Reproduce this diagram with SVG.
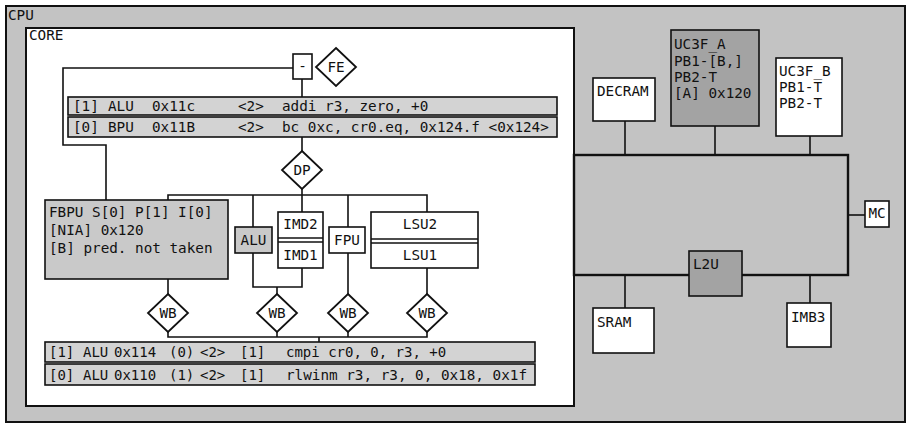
<svg xmlns="http://www.w3.org/2000/svg" width="909" height="426" viewBox="0 0 909 426">
<style>
text{font-family:"DejaVu Sans Mono","Liberation Mono",monospace;font-size:14.3px;fill:#111}
.c{text-anchor:middle}
.s{font-size:14px}
.box{fill:#fff;stroke:#111;stroke-width:1.6}
.gray{fill:#c9c9c9;stroke:#111;stroke-width:1.6}
.dark{fill:#a3a3a3;stroke:#111;stroke-width:1.6}
.bar{fill:#d3d3d3;stroke:#111;stroke-width:1.6}
.dia{fill:#fff;stroke:#111;stroke-width:1.8}
.ln{fill:none;stroke:#111;stroke-width:1.6}
.bus{fill:none;stroke:#111;stroke-width:2.4}
</style>
<defs>
<polygon id="dm" points="0,-19 20,0 0,19 -20,0" class="dia"/>
</defs>
<g id="cpu">
<rect x="6" y="6" width="899" height="416" fill="#c3c3c3" stroke="#111" stroke-width="2"/>
<text x="8" y="20">CPU</text>
</g>
<g id="core">
<rect x="26" y="28" width="548" height="378" fill="#fff" stroke="#111" stroke-width="2"/>
<text x="29" y="40">CORE</text>
</g>
<g id="connectors">
<polyline class="ln" points="293,68 63,68 63,145 106,145 106,200"/>
<line class="ln" x1="302" y1="79" x2="302" y2="97"/>
<line class="ln" x1="302" y1="137" x2="302" y2="151"/>
<line class="ln" x1="302" y1="189" x2="302" y2="212"/>
<polyline class="ln" points="168,200 168,195 427,195 427,212"/>
<line class="ln" x1="253" y1="195" x2="253" y2="227"/>
<line class="ln" x1="348" y1="195" x2="348" y2="227"/>
<polyline class="ln" points="253,253 253,287 302,287 302,268"/>
<line class="ln" x1="277" y1="287" x2="277" y2="294"/>
<line class="ln" x1="168" y1="279" x2="168" y2="294"/>
<line class="ln" x1="348" y1="253" x2="348" y2="294"/>
<line class="ln" x1="427" y1="268" x2="427" y2="294"/>
<polyline class="ln" points="168,332 168,337 427,337 427,332"/>
<line class="ln" x1="277" y1="332" x2="277" y2="337"/>
<line class="ln" x1="348" y1="332" x2="348" y2="337"/>
<line class="ln" x1="319" y1="337" x2="319" y2="342"/>
<rect class="bus" x="574" y="155" width="274" height="120"/>
<line class="ln" x1="625" y1="121" x2="625" y2="155"/>
<line class="ln" x1="715" y1="126" x2="715" y2="155"/>
<line class="ln" x1="810" y1="136" x2="810" y2="155"/>
<line class="ln" x1="848" y1="215" x2="865" y2="215"/>
<line class="ln" x1="625" y1="275" x2="625" y2="308"/>
<line class="ln" x1="810" y1="275" x2="810" y2="303"/>
</g>
<g id="minus">
<rect class="box" x="293" y="54" width="19" height="25"/>
<text class="c" x="302.5" y="71">-</text>
</g>
<g id="fe">
<use href="#dm" x="336" y="67"/>
<text class="c" x="336" y="72">FE</text>
</g>
<g id="fetch1">
<rect class="bar" x="68" y="97" width="489" height="18"/>
<text x="73" y="111">[1]</text><text x="108" y="111">ALU</text><text x="152" y="111">0x11c</text><text x="238" y="111">&lt;2&gt;</text><text x="282" y="111">addi r3, zero, +0</text>
</g>
<g id="fetch0">
<rect class="bar" x="68" y="117" width="489" height="20"/>
<text x="73" y="132">[0]</text><text x="108" y="132">BPU</text><text x="152" y="132">0x11B</text><text x="238" y="132">&lt;2&gt;</text><text x="282" y="132">bc 0xc, cr0.eq, 0x124.f &lt;0x124&gt;</text>
</g>
<g id="dp">
<use href="#dm" x="302" y="170"/>
<text class="c" x="302" y="175">DP</text>
</g>
<g id="fbpu">
<rect class="gray" x="45" y="200" width="183" height="79"/>
<text x="49" y="217">FBPU S[0] P[1] I[0]</text>
<text x="49" y="235">[NIA] 0x120</text>
<text x="49" y="253">[B] pred. not taken</text>
</g>
<g id="alu">
<rect class="gray" x="235" y="227" width="37" height="26"/>
<text class="c" x="253.5" y="245">ALU</text>
</g>
<g id="imd">
<rect class="box" x="278" y="212" width="45" height="56"/>
<line class="ln" x1="278" y1="238" x2="323" y2="238"/>
<line class="ln" x1="278" y1="242" x2="323" y2="242"/>
<text class="c" x="300.5" y="229">IMD2</text>
<text class="c" x="300.5" y="260">IMD1</text>
</g>
<g id="fpu">
<rect class="box" x="329" y="227" width="36" height="26"/>
<text class="c" x="347" y="245">FPU</text>
</g>
<g id="lsu">
<rect class="box" x="371" y="212" width="107" height="56"/>
<line class="ln" x1="371" y1="239" x2="478" y2="239"/>
<line class="ln" x1="371" y1="243" x2="478" y2="243"/>
<text class="c" x="420" y="229">LSU2</text>
<text class="c" x="420" y="260">LSU1</text>
</g>
<g id="wb1"><use href="#dm" x="168" y="313"/><text class="c" x="168" y="318">WB</text></g>
<g id="wb2"><use href="#dm" x="277" y="313"/><text class="c" x="277" y="318">WB</text></g>
<g id="wb3"><use href="#dm" x="348" y="313"/><text class="c" x="348" y="318">WB</text></g>
<g id="wb4"><use href="#dm" x="427" y="313"/><text class="c" x="427" y="318">WB</text></g>
<g id="retire1">
<rect class="bar" x="45" y="342" width="490" height="20"/>
<text class="s" x="49" y="357">[1]</text><text class="s" x="83" y="357">ALU</text><text class="s" x="114" y="357">0x114</text><text class="s" x="169" y="357">(0)</text><text class="s" x="200" y="357">&lt;2&gt;</text><text class="s" x="240" y="357">[1]</text><text class="s" x="286" y="357">cmpi cr0, 0, r3, +0</text>
</g>
<g id="retire0">
<rect class="bar" x="45" y="364" width="490" height="21"/>
<text class="s" x="49" y="380">[0]</text><text class="s" x="83" y="380">ALU</text><text class="s" x="114" y="380">0x110</text><text class="s" x="169" y="380">(1)</text><text class="s" x="200" y="380">&lt;2&gt;</text><text class="s" x="240" y="380">[1]</text><text x="286" y="380">rlwinm r3, r3, 0, 0x18, 0x1f</text>
</g>
<g id="decram">
<rect class="box" x="593" y="78" width="62" height="43"/>
<text x="597" y="96">DECRAM</text>
</g>
<g id="uc3fa">
<rect class="dark" x="671" y="30" width="88" height="96"/>
<text x="674" y="49">UC3F_A</text>
<text x="674" y="66">PB1-[B,]</text>
<text x="674" y="82">PB2-T</text>
<text x="674" y="98">[A] 0x120</text>
</g>
<g id="uc3fb">
<rect class="box" x="776" y="58" width="66" height="78"/>
<text x="779" y="76">UC3F_B</text>
<text x="779" y="92">PB1-T</text>
<text x="779" y="108">PB2-T</text>
</g>
<g id="mc">
<rect class="box" x="865" y="201" width="24" height="26"/>
<text class="c" x="877" y="218">MC</text>
</g>
<g id="l2u">
<rect class="dark" x="689" y="251" width="53" height="45"/>
<text x="693" y="269">L2U</text>
</g>
<g id="sram">
<rect class="box" x="593" y="308" width="61" height="45"/>
<text x="597" y="327">SRAM</text>
</g>
<g id="imb3">
<rect class="box" x="787" y="303" width="44" height="44"/>
<text x="791" y="322">IMB3</text>
</g>
</svg>
